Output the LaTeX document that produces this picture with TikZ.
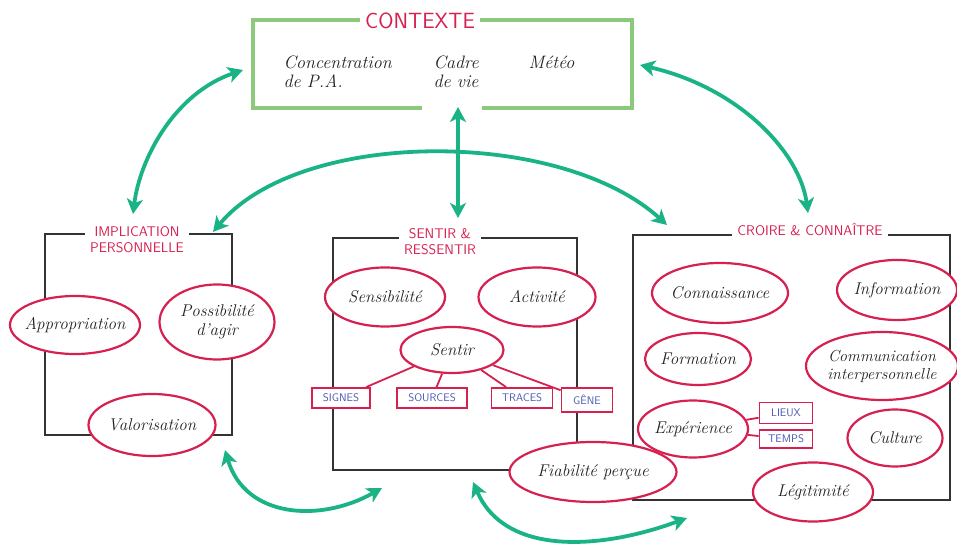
\documentclass[tikz,border=0pt]{standalone}
\usepackage{fontspec}
\usetikzlibrary{shapes.geometric,arrows.meta}
\definecolor{inkred}{HTML}{D6204F}
\definecolor{ctxgreen}{HTML}{8CC97C}
\definecolor{flowgreen}{HTML}{1AB386}
\definecolor{tagblue}{HTML}{4A58B0}
\definecolor{framegray}{HTML}{333333}
\definecolor{inkblack}{HTML}{222222}
\tikzset{
    frame/.style={draw=framegray, line width=1.8pt},
    ctxline/.style={draw=ctxgreen, line width=3.5pt},
    bubble/.style={ellipse, draw=inkred, line width=2.2pt, fill=white, inner xsep=-8pt, inner ysep=0pt,
        text=inkblack, align=center, font=\fontsize{17}{19}\selectfont\itshape},
    tag/.style={rectangle, draw=inkred, line width=1.8pt, fill=white, inner sep=0pt,
        minimum height=20pt, text=tagblue, font=\sffamily\fontsize{11}{12}\selectfont},
    heading/.style={fill=white, text=inkred, align=center, inner xsep=5pt, inner ysep=2pt,
        font=\sffamily\fontsize{14}{16}\selectfont},
    handtext/.style={text=inkblack, align=left, font=\fontsize{18}{19}\selectfont\itshape},
    link/.style={draw=inkred, line width=1.8pt},
    flow/.style={draw=flowgreen, line width=3.8pt, line cap=round,
        arrows={Stealth[length=15pt,width=16pt,inset=4pt]-Stealth[length=15pt,width=16pt,inset=4pt]}}
}
\begin{document}
\begin{tikzpicture}[x=1pt,y=1pt]
            \useasboundingbox (0,0) rectangle (957,548);

            \draw[ctxline] (370,528) -- (253,528) -- (253,440) -- (422,440);
            \draw[ctxline] (482,440) -- (632,440) -- (632,528) -- (475,528);
            \draw[frame] (45,314) rectangle (232,113);
            \draw[frame] (333,310) rectangle (577,78);
            \draw[frame] (633,313) rectangle (950,48);

            \node (ctxtitle) [heading, font=\sffamily\fontsize{22}{24}\selectfont] at (420,527) {CONTEXTE};
            \node (conc) [handtext, anchor=west] at (280,476) {Concentration\\de P.A.};
            \node (cadre) [handtext, anchor=west] at (430,476) {Cadre\\de vie};
            \node (meteo) [handtext, anchor=west] at (525,486) {Météo};

            \node (impltitle) [heading] at (137,308) {IMPLICATION\\PERSONNELLE};
            \node (appro) [bubble, minimum width=130pt, minimum height=58pt] at (75,223) {Appropriation};
            \node (possib) [bubble, minimum width=115pt, minimum height=75pt] at (217,226) {Possibilité\\d'agir};
            \node (valo) [bubble, minimum width=127pt, minimum height=62pt] at (152,123) {Valorisation};

            \node (sentirtitle) [heading] at (440,306) {SENTIR \&\\RESSENTIR};
            \node (sensib) [bubble, minimum width=120pt, minimum height=59pt] at (385,251) {Sensibilité};
            \node (activ) [bubble, minimum width=117pt, minimum height=59pt] at (537,251) {Activité};
            \node (sentir) [bubble, minimum width=103pt, minimum height=46pt] at (452,198) {Sentir};
            \node (signes) [tag, minimum width=58pt] at (341,150) {SIGNES};
            \node (sources) [tag, minimum width=70pt] at (432,150) {SOURCES};
            \node (traces) [tag, minimum width=61pt] at (522,150) {TRACES};
            \node (gene) [tag, minimum width=51pt, minimum height=24pt] at (587,148) {GÊNE};
            \node (fiab) [bubble, minimum width=167pt, minimum height=60pt] at (593,76) {Fiabilité perçue};

            \node (croiretitle) [heading] at (810,318) {CROIRE \& CONNAÎTRE};
            \node (connais) [bubble, minimum width=136pt, minimum height=60pt] at (720,255) {Connaissance};
            \node (info) [bubble, minimum width=120pt, minimum height=60pt] at (897,258) {Information};
            \node (forma) [bubble, minimum width=106pt, minimum height=52pt] at (698,189) {Formation};
            \node (comm) [bubble, minimum width=152pt, minimum height=68pt, font=\fontsize{16}{18}\selectfont\itshape] at (882,182) {Communication\\interpersonnelle};
            \node (exper) [bubble, minimum width=110pt, minimum height=57pt] at (693,119) {Expérience};
            \node (lieux) [tag, minimum width=53pt, minimum height=21pt] at (786,135) {LIEUX};
            \node (temps) [tag, minimum width=53pt, minimum height=18pt] at (786,109) {TEMPS};
            \node (cult) [bubble, minimum width=95pt, minimum height=57pt] at (895,110) {Culture};
            \node (legit) [bubble, minimum width=120pt, minimum height=59pt] at (813,56) {Légitimité};

            \coordinate (ctxW) at (243,478);
            \coordinate (implN) at (133,334);
            \coordinate (ctxS) at (458,441);
            \coordinate (sentirN) at (458,330);
            \coordinate (implNE) at (213,316);
            \coordinate (croireNW) at (667,323);
            \coordinate (ctxE) at (640,483);
            \coordinate (croireN) at (808,335);
            \coordinate (valoSE) at (225,98);
            \coordinate (sentirSW) at (382,60);
            \coordinate (sentirS) at (473,66);
            \coordinate (croireSW) at (687,30);

            \path[link]
            (sentir) edge (signes)
            (sentir) edge (sources)
            (sentir) edge (traces)
            (sentir) edge (gene)
            (exper) edge (lieux)
            (exper) edge (temps);

            \draw[flow] (ctxW) .. controls (175,455) and (140,390) .. (implN);
            \draw[flow] (ctxS) -- (sentirN);
            \draw[flow] (implNE) .. controls (300,420) and (560,420) .. (croireNW);
            \draw[flow] (ctxE) .. controls (740,460) and (800,395) .. (croireN);
            \draw[flow] (valoSE) .. controls (245,30) and (320,25) .. (sentirSW);
            \draw[flow] (sentirS) .. controls (505,-8) and (600,-2) .. (croireSW);

        \end{tikzpicture}
\end{document}
